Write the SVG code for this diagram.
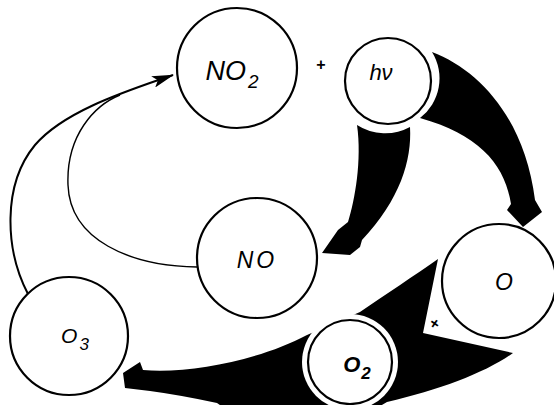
<svg xmlns="http://www.w3.org/2000/svg" width="554" height="405" viewBox="0 0 554 405">
<style>
.node circle.c{fill:#fff;stroke:#000;stroke-width:2.2}
.halo{fill:#fff;stroke:none}
text{font-family:"Liberation Sans",Arial,sans-serif;font-style:italic;fill:#000;text-anchor:middle}
.thin{fill:none;stroke:#000}
.fat{fill:#000;stroke:none}
.plus{font-style:normal;font-weight:bold;font-size:16px}
</style>
<defs>
<marker id="ah" markerUnits="userSpaceOnUse" viewBox="0 0 22 12" refX="21" refY="6" markerWidth="22" markerHeight="12" orient="auto">
<path d="M0,0 L22,6 L0,12 L5,6 Z" fill="#000"/>
</marker>
</defs>
<rect width="554" height="405" fill="#fff"/>
<g id="connectors">
<path class="thin" stroke-width="2" d="M28,294 C5,250 2,185 35,145 C65,110 130,90 173,75" marker-end="url(#ah)"/>
<path class="thin" stroke-width="1.4" d="M197,267 C130,266 70,240 68,185 C66,135 95,105 120,95"/>
<path class="fat" d="M432,52 C480,70 525,120 535,200 L542,212 L523,227 L507,210 L511,204 C505,165 480,135 420,118 A50 50 0 0 0 432,52 Z"/>
<path class="fat" d="M357,125 A52 52 0 0 0 410,127 C412,160 400,200 362,240 L360,247 L350,255 L322,253 L338,230 L348,222 C355,200 362,160 357,125 Z"/>
<path class="fat" d="M125,388 L123,373 L140,362 L143,370 C190,374 260,360 307,335 L360,312 C385,295 415,275 438,259 L423,333 L513,353 C487,372 440,390 387,402 L370,412 L230,412 L217,403 Q180,395 150,391 Z"/>
<text class="plus" x="435" y="329" transform="rotate(35 435 323)">+</text>
</g>
<g id="node-no2" class="node">
<circle class="c" cx="237" cy="68" r="60"/>
<text x="232" y="80" font-size="27">NO<tspan font-size="19" dx="2" dy="8">2</tspan></text>
</g>
<g id="plus-top"><text class="plus" x="321" y="70">+</text></g>
<g id="node-hv" class="node">
<circle class="c" cx="388" cy="81" r="43"/>
<text x="381" y="80" font-size="22">hν</text>
</g>
<g id="node-no" class="node">
<circle class="c" cx="257" cy="258" r="60"/>
<text x="257" y="268" font-size="23" letter-spacing="3">NO</text>
</g>
<g id="node-o" class="node">
<circle class="c" cx="499" cy="281" r="57"/>
<text x="504" y="290" font-size="23">O</text>
</g>
<g id="node-o3" class="node">
<circle class="c" cx="69" cy="336" r="59"/>
<text x="75" y="343" font-size="21">O<tspan font-size="17" dx="2" dy="7">3</tspan></text>
</g>
<g id="node-o2" class="node">
<circle class="halo" cx="350" cy="362" r="48"/>
<circle class="c" cx="350" cy="362" r="42"/>
<text x="357" y="372" font-size="22" font-weight="bold">O<tspan font-size="17" dx="1" dy="7">2</tspan></text>
</g>
</svg>
